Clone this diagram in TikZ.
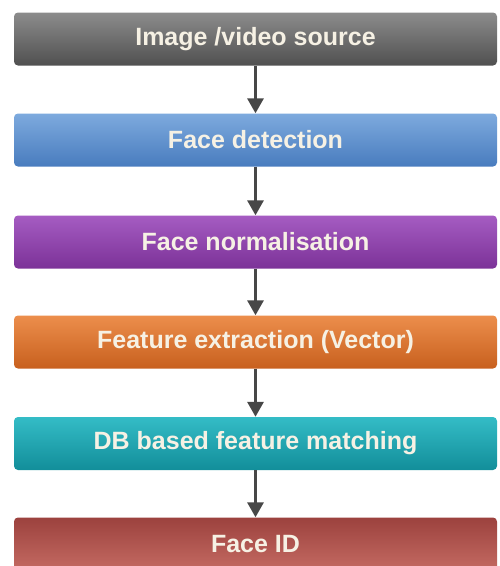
\documentclass[tikz,border=0pt]{standalone}
\usepackage{fontspec}
\setmainfont{Liberation Sans}
\usetikzlibrary{shapes, arrows, arrows.meta}
\definecolor{txtc}{HTML}{F6F1E4}

\tikzset{
  stage/.style={rounded corners=4pt, minimum width=483pt, minimum height=53pt,
    font=\fontsize{25}{30}\selectfont\bfseries, text=txtc},
  arr/.style={-{Triangle[width=16pt,length=15pt]}, line width=3pt, draw=black!72}
}

\begin{document}
\begin{tikzpicture}[x=1pt, y=-1pt]
            \clip (0,0) rectangle (499,566);
            \node[stage, top color={rgb,255:red,140;green,140;blue,140}, bottom color={rgb,255:red,80;green,80;blue,80}] (n0) at (255.5, 39) {Image /video source};
            \node[stage, top color={rgb,255:red,125;green,170;blue,222}, bottom color={rgb,255:red,72;green,124;blue,190}] (n1) at (255.5, 140) {Face detection};
            \node[stage, top color={rgb,255:red,165;green,92;blue,194}, bottom color={rgb,255:red,124;green,50;blue,152}] (n2) at (255.5, 242) {Face normalisation};
            \node[stage, top color={rgb,255:red,236;green,142;blue,76}, bottom color={rgb,255:red,200;green,96;blue,30}] (n3) at (255.5, 342) {Feature extraction (Vector)};
            \node[stage, top color={rgb,255:red,52;green,188;blue,198}, bottom color={rgb,255:red,18;green,142;blue,154}] (n4) at (255.5, 443.5) {DB based feature matching};
            \node[stage, top color={rgb,255:red,156;green,66;blue,62}, bottom color={rgb,255:red,196;green,106;blue,98}] (n5) at (255.5, 544) {Face ID};

            \draw[arr] (n0) -- (n1);
            \draw[arr] (n1) -- (n2);
            \draw[arr] (n2) -- (n3);
            \draw[arr] (n3) -- (n4);
            \draw[arr] (n4) -- (n5);
    	\end{tikzpicture}
\end{document}
